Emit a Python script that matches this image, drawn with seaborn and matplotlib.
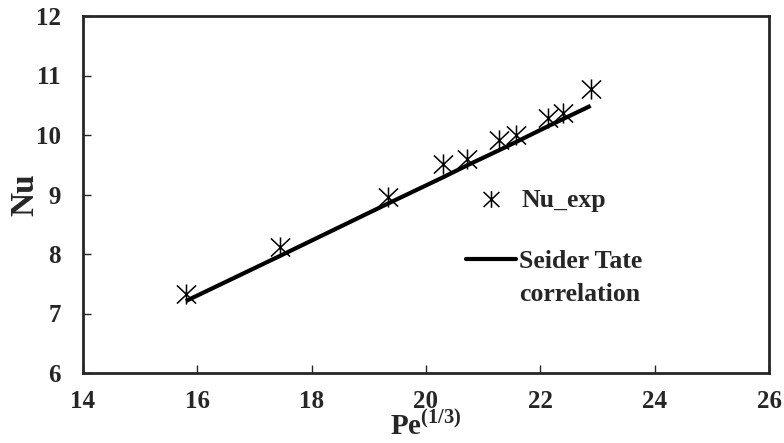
import matplotlib
matplotlib.use("Agg")
import matplotlib.pyplot as plt
from matplotlib.path import Path
from matplotlib.lines import Line2D
import seaborn as sns
import pandas as pd

# Experimental Nusselt numbers vs cube root of Peclet number
pe_third = [15.80, 17.45, 19.34, 20.30, 20.72, 21.27, 21.57, 22.14, 22.40, 22.88]
nu_exp = [7.33, 8.12, 8.96, 9.52, 9.59, 9.92, 10.00, 10.28, 10.37, 10.77]
# Seider-Tate correlation evaluated at the same points
nu_st = [7.21, 7.97, 8.85, 9.29, 9.49, 9.74, 9.88, 10.15, 10.27, 10.49]

x_ticks = [14, 16, 18, 20, 22, 24, 26]
y_ticks = [6, 7, 8, 9, 10, 11, 12]

df = pd.DataFrame({"pe": pe_third, "nu": nu_exp, "st": nu_st})

sns.set_style("ticks")
plt.rcParams["font.family"] = ["Liberation Serif", "DejaVu Serif"]
plt.rcParams["font.weight"] = "bold"
plt.rcParams["mathtext.fontset"] = "custom"
plt.rcParams["mathtext.rm"] = "Liberation Serif"
plt.rcParams["mathtext.bf"] = "Liberation Serif:bold"

# asterisk marker: vertical bar plus an X
star = Path(
    [(0, -1), (0, 1), (-0.95, -0.9), (0.95, 0.9), (-0.95, 0.9), (0.95, -0.9)],
    [Path.MOVETO, Path.LINETO, Path.MOVETO, Path.LINETO, Path.MOVETO, Path.LINETO],
)

fig = plt.figure(figsize=(7.84, 4.43), dpi=100)
ax = fig.add_axes([83 / 784, 1 - 373 / 443, (769 - 83) / 784, (373 - 16) / 443])

sns.lineplot(data=df, x="pe", y="st", ax=ax, color="black", linewidth=3,
             solid_capstyle="butt", zorder=2)
ax.plot(df["pe"], df["nu"], linestyle="none", marker=star, markersize=14.5,
        markeredgewidth=1.1, color="black", zorder=3)

ax.set_xlim(14, 26)
ax.set_ylim(6, 12)
ax.set_xticks(x_ticks)
ax.set_yticks(y_ticks)
ax.tick_params(direction="in", length=6, width=1, labelsize=18)
ax.tick_params(axis="x", pad=12)
ax.tick_params(axis="y", pad=16)
for s in ax.spines.values():
    s.set_linewidth(2)
    s.set_visible(True)

ax.set_xlabel(r"$\mathbf{Pe}^{\mathbf{(1/3)}}$", fontsize=21, labelpad=-1)
ax.set_ylabel("Nu", fontsize=24, fontweight="bold", labelpad=-3)

leg_font = {"family": "Liberation Serif", "weight": "bold", "size": 18.5}

# first legend: experimental points
h_exp = Line2D([], [], linestyle="none", marker=star, markersize=12,
               markeredgewidth=1.1, color="black")
leg1 = ax.legend([h_exp], ["Nu_exp"], frameon=False, prop=leg_font,
                 handlelength=1.95, handletextpad=0.2,
                 loc="center left", bbox_to_anchor=(466 / 784, 1 - 201 / 443),
                 bbox_transform=fig.transFigure, borderaxespad=0, borderpad=0)
ax.add_artist(leg1)

# second legend: correlation line, label split over two rows
h_st = Line2D([], [], color="black", linewidth=3)
h_blank = Line2D([], [], linestyle="none")
ax.legend([h_st, h_blank], ["Seider Tate", "correlation"], frameon=False,
          prop=leg_font, handlelength=1.95, handletextpad=0.1, labelspacing=0.37,
          loc="upper left", bbox_to_anchor=(466 / 784, 1 - 250 / 443),
          bbox_transform=fig.transFigure, borderaxespad=0, borderpad=0)

fig.savefig("out.png", dpi=100)
